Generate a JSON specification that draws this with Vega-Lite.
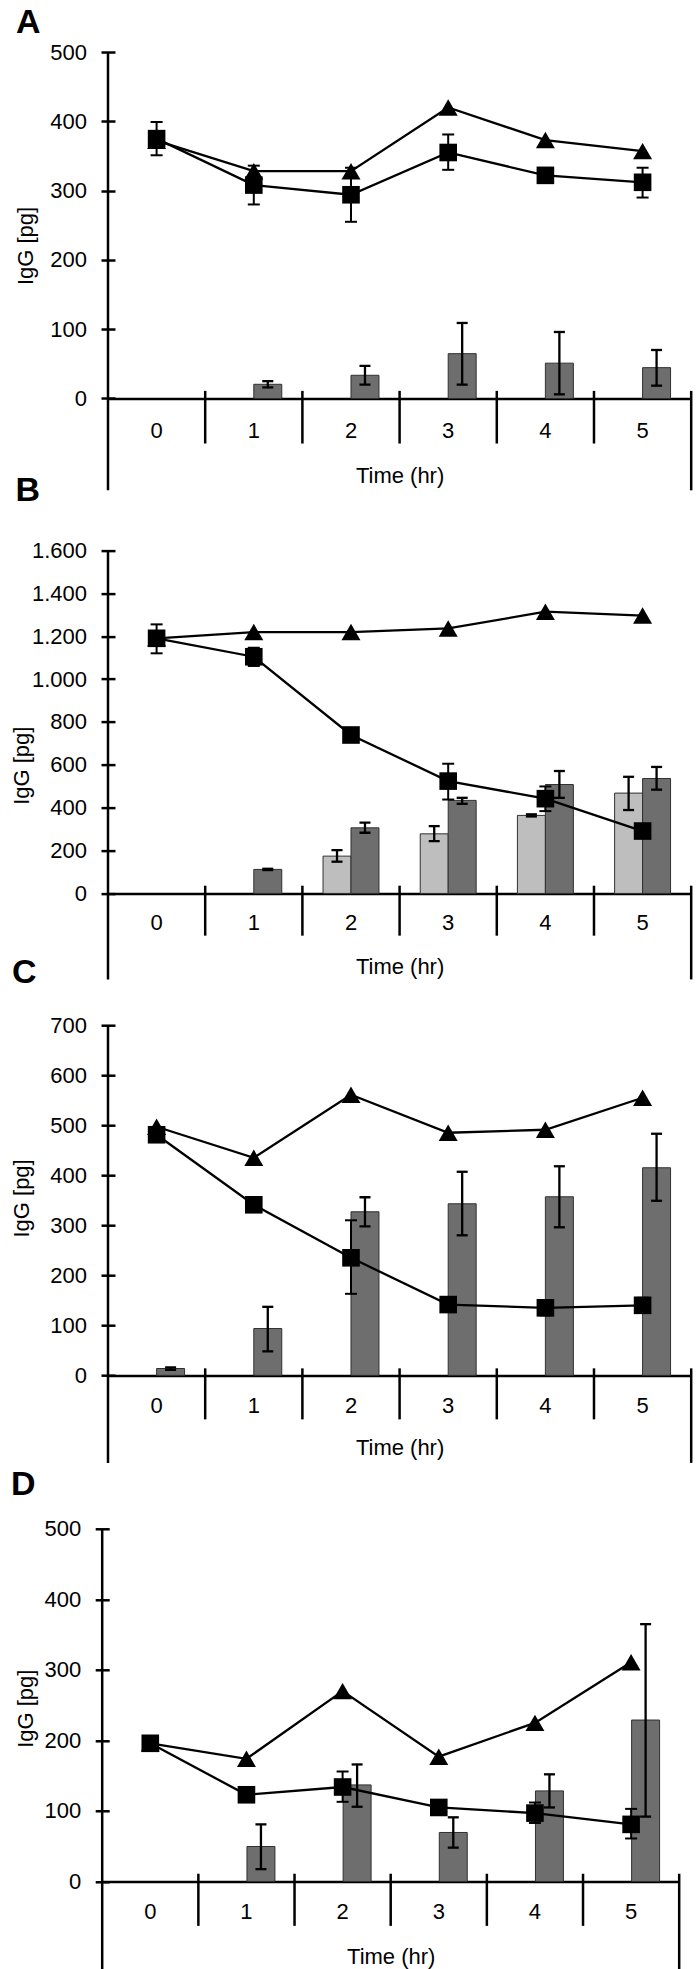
{
  "$schema": "https://vega.github.io/schema/vega-lite/v6.json",
  "padding": {"left": 10, "top": 5, "right": 0, "bottom": 0},
  "background": "white",
  "spacing": 45.6,
  "bounds": "flush",
  "config": {
    "font": "Liberation Sans",
    "view": {"stroke": null},
    "title": {"anchor": "start", "frame": "group", "fontSize": 34, "fontWeight": "bold", "color": "black", "baseline": "alphabetic"},
    "axis": {"domainColor": "black", "domainWidth": 2.5, "tickColor": "black", "tickWidth": 2.5, "tickSize": 7, "labelFontSize": 22, "labelColor": "black", "titleFontSize": 22, "titleFontWeight": "normal", "titleColor": "black", "grid": false},
    "axisY": {"domain": false, "tickSize": 14, "labelPadding": 14.5, "titleBaseline": "middle", "titleAlign": "center", "titleAngle": 270},
    "axisX": {"ticks": false, "labelAngle": 0, "titleBaseline": "middle", "zindex": 1}
  },
  "datasets": {
    "A": [
      {"t":"0","s":"sq","v":375,"lo":351,"hi":399},
      {"t":"1","s":"sq","v":308,"lo":280,"hi":336},
      {"t":"2","s":"sq","v":294,"lo":255,"hi":333},
      {"t":"3","s":"sq","v":355,"lo":330,"hi":381},
      {"t":"4","s":"sq","v":322,"lo":316,"hi":328},
      {"t":"5","s":"sq","v":312,"lo":290,"hi":333},
      {"t":"0","s":"tri","v":372},
      {"t":"1","s":"tri","v":328},
      {"t":"2","s":"tri","v":328},
      {"t":"3","s":"tri","v":420},
      {"t":"4","s":"tri","v":373},
      {"t":"5","s":"tri","v":357},
      {"t":"1","s":"dark","v":20.5,"lo":16,"hi":25},
      {"t":"2","s":"dark","v":33.5,"lo":20,"hi":47},
      {"t":"3","s":"dark","v":64.7,"lo":20,"hi":109},
      {"t":"4","s":"dark","v":51,"lo":6,"hi":96},
      {"t":"5","s":"dark","v":44.5,"lo":18.5,"hi":70}
    ],
    "B": [
      {"t":"0","s":"sq","v":1190,"lo":1120,"hi":1255},
      {"t":"1","s":"sq","v":1104,"lo":1061,"hi":1146},
      {"t":"2","s":"sq","v":739,"lo":729,"hi":749},
      {"t":"3","s":"sq","v":524,"lo":438,"hi":605},
      {"t":"4","s":"sq","v":442,"lo":384,"hi":499},
      {"t":"5","s":"sq","v":291,"lo":281,"hi":301},
      {"t":"0","s":"tri","v":1190},
      {"t":"1","s":"tri","v":1219},
      {"t":"2","s":"tri","v":1219},
      {"t":"3","s":"tri","v":1236},
      {"t":"4","s":"tri","v":1314},
      {"t":"5","s":"tri","v":1296},
      {"t":"2","s":"light","v":174,"lo":148,"hi":202},
      {"t":"3","s":"light","v":278,"lo":244,"hi":314},
      {"t":"4","s":"light","v":364,"lo":359,"hi":369},
      {"t":"5","s":"light","v":468,"lo":389,"hi":544},
      {"t":"1","s":"dark","v":112,"lo":109,"hi":115},
      {"t":"2","s":"dark","v":306,"lo":283,"hi":330},
      {"t":"3","s":"dark","v":434,"lo":418,"hi":446},
      {"t":"4","s":"dark","v":508,"lo":446,"hi":571},
      {"t":"5","s":"dark","v":536,"lo":484,"hi":590}
    ],
    "C": [
      {"t":"0","s":"sq","v":481,"lo":471,"hi":491},
      {"t":"1","s":"sq","v":341,"lo":336,"hi":346},
      {"t":"2","s":"sq","v":235,"lo":163,"hi":310},
      {"t":"3","s":"sq","v":141.5,"lo":127,"hi":156},
      {"t":"4","s":"sq","v":135,"lo":120,"hi":150},
      {"t":"5","s":"sq","v":140,"lo":125,"hi":155},
      {"t":"0","s":"tri","v":497},
      {"t":"1","s":"tri","v":435},
      {"t":"2","s":"tri","v":561},
      {"t":"3","s":"tri","v":485},
      {"t":"4","s":"tri","v":491},
      {"t":"5","s":"tri","v":555},
      {"t":"0","s":"dark","v":13.7,"lo":11,"hi":16},
      {"t":"1","s":"dark","v":93.6,"lo":48,"hi":137},
      {"t":"2","s":"dark","v":327,"lo":298,"hi":356},
      {"t":"3","s":"dark","v":343,"lo":280,"hi":407},
      {"t":"4","s":"dark","v":357,"lo":296,"hi":418},
      {"t":"5","s":"dark","v":415,"lo":349,"hi":483}
    ],
    "D": [
      {"t":"0","s":"sq","v":196,"lo":191,"hi":201},
      {"t":"1","s":"sq","v":123,"lo":118,"hi":128},
      {"t":"2","s":"sq","v":134,"lo":113,"hi":156},
      {"t":"3","s":"sq","v":105,"lo":100,"hi":110},
      {"t":"4","s":"sq","v":97,"lo":83,"hi":112},
      {"t":"5","s":"sq","v":81,"lo":61,"hi":103},
      {"t":"0","s":"tri","v":196},
      {"t":"1","s":"tri","v":174},
      {"t":"2","s":"tri","v":270},
      {"t":"3","s":"tri","v":177},
      {"t":"4","s":"tri","v":225},
      {"t":"5","s":"tri","v":311},
      {"t":"1","s":"dark","v":49.6,"lo":17.5,"hi":81},
      {"t":"2","s":"dark","v":137,"lo":106,"hi":166},
      {"t":"3","s":"dark","v":69.5,"lo":48,"hi":91},
      {"t":"4","s":"dark","v":128.5,"lo":105,"hi":152},
      {"t":"5","s":"dark","v":229,"lo":92,"hi":365}
    ]
  },
  "vconcat": [
    {
      "width": 583.2, "height": 438.3,
      "title": {"text": "A", "offset": 1.5, "dx": -92},
      "data": {"name": "A"},
      "encoding": {
        "x": {"field":"t","type":"ordinal","title":"Time (hr)","scale":{"domain":["0","1","2","3","4","5"],"paddingInner":0,"paddingOuter":0},"axis":{"offset":-91.8,"labelPadding":21.7,"titleY":76.5}},
        "y": {"field":"v","type":"quantitative","title":"IgG [pg]","scale":{"domain":[-132.5,500],"nice":false,"zero":false},"axis":{"offset":-7,"values":[0,100,200,300,400,500],"titleX":-89,"titleY":193.5}}
      },
      "layer": [
        {"transform":[{"filter":"datum.s=='light'||datum.s=='dark'"}],"mark":{"type":"bar","stroke":"#303030","strokeWidth":1},"encoding":{"xOffset":{"field":"s","type":"nominal","scale":{"domain":["light","dark"],"paddingInner":0,"paddingOuter":0.7375}},"color":{"field":"s","type":"nominal","scale":{"domain":["light","dark"],"range":["#bebebe","#6e6e6e"]},"legend":null}}},
        {"transform":[{"filter":"(datum.s=='light'||datum.s=='dark')&&isValid(datum.lo)"}],"mark":{"type":"rule","color":"black","strokeWidth":2.3},"encoding":{"xOffset":{"field":"s","type":"nominal"},"y":{"field":"lo","type":"quantitative","title":"IgG [pg]"},"y2":{"field":"hi"}}},
        {"transform":[{"filter":"(datum.s=='light'||datum.s=='dark')&&isValid(datum.lo)"}],"mark":{"type":"tick","color":"black","thickness":2.3,"size":11,"opacity":1},"encoding":{"xOffset":{"field":"s","type":"nominal"},"y":{"field":"lo","type":"quantitative","title":"IgG [pg]"}}},
        {"transform":[{"filter":"(datum.s=='light'||datum.s=='dark')&&isValid(datum.lo)"}],"mark":{"type":"tick","color":"black","thickness":2.3,"size":11,"opacity":1},"encoding":{"xOffset":{"field":"s","type":"nominal"},"y":{"field":"hi","type":"quantitative","title":"IgG [pg]"}}},
        {"transform":[{"filter":"datum.s=='sq'&&datum.t=='0'"}],"mark":{"type":"rule","color":"black","strokeWidth":2.5},"encoding":{"x":{"field":"t","type":"ordinal","bandPosition":0,"title":"Time (hr)"},"y":{"datum":500,"title":"IgG [pg]"},"y2":{"datum":-132.5}}},
        {"transform":[{"filter":"datum.s=='sq'&&datum.t!='0'"}],"mark":{"type":"rule","color":"black","strokeWidth":2.5},"encoding":{"x":{"field":"t","type":"ordinal","bandPosition":0,"title":"Time (hr)"},"y":{"datum":11,"title":"IgG [pg]"},"y2":{"datum":-65}}},
        {"transform":[{"filter":"datum.s=='sq'&&datum.t=='5'"}],"mark":{"type":"rule","color":"black","strokeWidth":2.5},"encoding":{"x":{"field":"t","type":"ordinal","bandPosition":1,"title":"Time (hr)"},"y":{"datum":11,"title":"IgG [pg]"},"y2":{"datum":-132.5}}},
        {"transform":[{"filter":"datum.s=='tri'"}],"mark":{"type":"line","color":"black","strokeWidth":2.3,"point":{"shape":"triangle-up","size":360,"filled":true,"fill":"black","opacity":1}}},
        {"transform":[{"filter":"datum.s=='sq'"}],"mark":{"type":"rule","color":"black","strokeWidth":2},"encoding":{"y":{"field":"lo","type":"quantitative","title":"IgG [pg]"},"y2":{"field":"hi"}}},
        {"transform":[{"filter":"datum.s=='sq'"}],"mark":{"type":"tick","color":"black","thickness":2,"size":12,"opacity":1},"encoding":{"y":{"field":"lo","type":"quantitative","title":"IgG [pg]"}}},
        {"transform":[{"filter":"datum.s=='sq'"}],"mark":{"type":"tick","color":"black","thickness":2,"size":12,"opacity":1},"encoding":{"y":{"field":"hi","type":"quantitative","title":"IgG [pg]"}}},
        {"transform":[{"filter":"datum.s=='sq'"}],"mark":{"type":"line","color":"black","strokeWidth":2.3,"point":{"shape":"square","size":310,"filled":true,"fill":"black","opacity":1}}}
      ]
    },
    {
      "width": 583.2, "height": 442.8,
      "title": {"text": "B", "offset": 28.9, "dx": -92.5},
      "data": {"name": "B"},
      "encoding": {
        "x": {"field":"t","type":"ordinal","title":"Time (hr)","scale":{"domain":["0","1","2","3","4","5"],"paddingInner":0,"paddingOuter":0},"axis":{"offset":-86,"labelPadding":19.1,"titleY":72.6}},
        "y": {"field":"v","type":"quantitative","title":"IgG [pg]","scale":{"domain":[-401,1600],"nice":false,"zero":false,"range":[442.8,13.8]},"axis":{"offset":-7,"values":[0,200,400,600,800,1000,1200,1400,1600],"format":",d","labelExpr":"replace(datum.label, ',', '.')","titleX":-93.5,"titleY":228.6}}
      },
      "layer": [
        {"transform":[{"filter":"datum.s=='light'||datum.s=='dark'"}],"mark":{"type":"bar","stroke":"#303030","strokeWidth":1},"encoding":{"xOffset":{"field":"s","type":"nominal","scale":{"domain":["light","dark"],"paddingInner":0,"paddingOuter":0.7375}},"color":{"field":"s","type":"nominal","scale":{"domain":["light","dark"],"range":["#bebebe","#6e6e6e"]},"legend":null}}},
        {"transform":[{"filter":"(datum.s=='light'||datum.s=='dark')&&isValid(datum.lo)"}],"mark":{"type":"rule","color":"black","strokeWidth":2.3},"encoding":{"xOffset":{"field":"s","type":"nominal"},"y":{"field":"lo","type":"quantitative","title":"IgG [pg]"},"y2":{"field":"hi"}}},
        {"transform":[{"filter":"(datum.s=='light'||datum.s=='dark')&&isValid(datum.lo)"}],"mark":{"type":"tick","color":"black","thickness":2.3,"size":11,"opacity":1},"encoding":{"xOffset":{"field":"s","type":"nominal"},"y":{"field":"lo","type":"quantitative","title":"IgG [pg]"}}},
        {"transform":[{"filter":"(datum.s=='light'||datum.s=='dark')&&isValid(datum.lo)"}],"mark":{"type":"tick","color":"black","thickness":2.3,"size":11,"opacity":1},"encoding":{"xOffset":{"field":"s","type":"nominal"},"y":{"field":"hi","type":"quantitative","title":"IgG [pg]"}}},
        {"transform":[{"filter":"datum.s=='sq'&&datum.t=='0'"}],"mark":{"type":"rule","color":"black","strokeWidth":2.5},"encoding":{"x":{"field":"t","type":"ordinal","bandPosition":0,"title":"Time (hr)"},"y":{"datum":1600,"title":"IgG [pg]"},"y2":{"datum":-401}}},
        {"transform":[{"filter":"datum.s=='sq'&&datum.t!='0'"}],"mark":{"type":"rule","color":"black","strokeWidth":2.5},"encoding":{"x":{"field":"t","type":"ordinal","bandPosition":0,"title":"Time (hr)"},"y":{"datum":36,"title":"IgG [pg]"},"y2":{"datum":-197}}},
        {"transform":[{"filter":"datum.s=='sq'&&datum.t=='5'"}],"mark":{"type":"rule","color":"black","strokeWidth":2.5},"encoding":{"x":{"field":"t","type":"ordinal","bandPosition":1,"title":"Time (hr)"},"y":{"datum":36,"title":"IgG [pg]"},"y2":{"datum":-401}}},
        {"transform":[{"filter":"datum.s=='tri'"}],"mark":{"type":"line","color":"black","strokeWidth":2.3,"point":{"shape":"triangle-up","size":360,"filled":true,"fill":"black","opacity":1}}},
        {"transform":[{"filter":"datum.s=='sq'"}],"mark":{"type":"rule","color":"black","strokeWidth":2},"encoding":{"y":{"field":"lo","type":"quantitative","title":"IgG [pg]"},"y2":{"field":"hi"}}},
        {"transform":[{"filter":"datum.s=='sq'"}],"mark":{"type":"tick","color":"black","thickness":2,"size":12,"opacity":1},"encoding":{"y":{"field":"lo","type":"quantitative","title":"IgG [pg]"}}},
        {"transform":[{"filter":"datum.s=='sq'"}],"mark":{"type":"tick","color":"black","thickness":2,"size":12,"opacity":1},"encoding":{"y":{"field":"hi","type":"quantitative","title":"IgG [pg]"}}},
        {"transform":[{"filter":"datum.s=='sq'"}],"mark":{"type":"line","color":"black","strokeWidth":2.3,"point":{"shape":"square","size":310,"filled":true,"fill":"black","opacity":1}}}
      ]
    },
    {
      "width": 583.2, "height": 437.7,
      "title": {"text": "C", "offset": 23.8, "dx": -96},
      "data": {"name": "C"},
      "encoding": {
        "x": {"field":"t","type":"ordinal","title":"Time (hr)","scale":{"domain":["0","1","2","3","4","5"],"paddingInner":0,"paddingOuter":0},"axis":{"offset":-87.5,"labelPadding":19.7,"titleY":72.5}},
        "y": {"field":"v","type":"quantitative","title":"IgG [pg]","scale":{"domain":[-175,700],"nice":false,"zero":false},"axis":{"offset":-7,"values":[0,100,200,300,400,500,600,700],"titleX":-93.5,"titleY":172.7}}
      },
      "layer": [
        {"transform":[{"filter":"datum.s=='light'||datum.s=='dark'"}],"mark":{"type":"bar","stroke":"#303030","strokeWidth":1},"encoding":{"xOffset":{"field":"s","type":"nominal","scale":{"domain":["light","dark"],"paddingInner":0,"paddingOuter":0.7375}},"color":{"field":"s","type":"nominal","scale":{"domain":["light","dark"],"range":["#bebebe","#6e6e6e"]},"legend":null}}},
        {"transform":[{"filter":"(datum.s=='light'||datum.s=='dark')&&isValid(datum.lo)"}],"mark":{"type":"rule","color":"black","strokeWidth":2.3},"encoding":{"xOffset":{"field":"s","type":"nominal"},"y":{"field":"lo","type":"quantitative","title":"IgG [pg]"},"y2":{"field":"hi"}}},
        {"transform":[{"filter":"(datum.s=='light'||datum.s=='dark')&&isValid(datum.lo)"}],"mark":{"type":"tick","color":"black","thickness":2.3,"size":11,"opacity":1},"encoding":{"xOffset":{"field":"s","type":"nominal"},"y":{"field":"lo","type":"quantitative","title":"IgG [pg]"}}},
        {"transform":[{"filter":"(datum.s=='light'||datum.s=='dark')&&isValid(datum.lo)"}],"mark":{"type":"tick","color":"black","thickness":2.3,"size":11,"opacity":1},"encoding":{"xOffset":{"field":"s","type":"nominal"},"y":{"field":"hi","type":"quantitative","title":"IgG [pg]"}}},
        {"transform":[{"filter":"datum.s=='sq'&&datum.t=='0'"}],"mark":{"type":"rule","color":"black","strokeWidth":2.5},"encoding":{"x":{"field":"t","type":"ordinal","bandPosition":0,"title":"Time (hr)"},"y":{"datum":700,"title":"IgG [pg]"},"y2":{"datum":-175}}},
        {"transform":[{"filter":"datum.s=='sq'&&datum.t!='0'"}],"mark":{"type":"rule","color":"black","strokeWidth":2.5},"encoding":{"x":{"field":"t","type":"ordinal","bandPosition":0,"title":"Time (hr)"},"y":{"datum":14,"title":"IgG [pg]"},"y2":{"datum":-88}}},
        {"transform":[{"filter":"datum.s=='sq'&&datum.t=='5'"}],"mark":{"type":"rule","color":"black","strokeWidth":2.5},"encoding":{"x":{"field":"t","type":"ordinal","bandPosition":1,"title":"Time (hr)"},"y":{"datum":14,"title":"IgG [pg]"},"y2":{"datum":-175}}},
        {"transform":[{"filter":"datum.s=='tri'"}],"mark":{"type":"line","color":"black","strokeWidth":2.3,"point":{"shape":"triangle-up","size":360,"filled":true,"fill":"black","opacity":1}}},
        {"transform":[{"filter":"datum.s=='sq'"}],"mark":{"type":"rule","color":"black","strokeWidth":2},"encoding":{"y":{"field":"lo","type":"quantitative","title":"IgG [pg]"},"y2":{"field":"hi"}}},
        {"transform":[{"filter":"datum.s=='sq'"}],"mark":{"type":"tick","color":"black","thickness":2,"size":12,"opacity":1},"encoding":{"y":{"field":"lo","type":"quantitative","title":"IgG [pg]"}}},
        {"transform":[{"filter":"datum.s=='sq'"}],"mark":{"type":"tick","color":"black","thickness":2,"size":12,"opacity":1},"encoding":{"y":{"field":"hi","type":"quantitative","title":"IgG [pg]"}}},
        {"transform":[{"filter":"datum.s=='sq'"}],"mark":{"type":"line","color":"black","strokeWidth":2.3,"point":{"shape":"square","size":310,"filled":true,"fill":"black","opacity":1}}}
      ]
    },
    {
      "width": 583.2, "height": 461.1,
      "title": {"text": "D", "offset": 6.6, "dx": -97},
      "data": {"name": "D"},
      "encoding": {
        "x": {"field":"t","type":"ordinal","title":"Time (hr)","scale":{"domain":["0","1","2","3","4","5"],"paddingInner":0,"paddingOuter":0,"range":[-5.8,571.2]},"axis":{"offset":-88.4,"labelPadding":20.5,"titleY":75}},
        "y": {"field":"v","type":"quantitative","title":"IgG [pg]","scale":{"domain":[-125.4,500],"nice":false,"zero":false,"range":[461.1,20.2]},"axis":{"offset":-1.2,"values":[0,100,200,300,400,500],"titleX":-83.2,"titleY":199.4}}
      },
      "layer": [
        {"transform":[{"filter":"datum.s=='light'||datum.s=='dark'"}],"mark":{"type":"bar","stroke":"#303030","strokeWidth":1},"encoding":{"xOffset":{"field":"s","type":"nominal","scale":{"domain":["light","dark"],"paddingInner":0,"paddingOuter":0.7375}},"color":{"field":"s","type":"nominal","scale":{"domain":["light","dark"],"range":["#bebebe","#6e6e6e"]},"legend":null}}},
        {"transform":[{"filter":"(datum.s=='light'||datum.s=='dark')&&isValid(datum.lo)"}],"mark":{"type":"rule","color":"black","strokeWidth":2.3},"encoding":{"xOffset":{"field":"s","type":"nominal"},"y":{"field":"lo","type":"quantitative","title":"IgG [pg]"},"y2":{"field":"hi"}}},
        {"transform":[{"filter":"(datum.s=='light'||datum.s=='dark')&&isValid(datum.lo)"}],"mark":{"type":"tick","color":"black","thickness":2.3,"size":11,"opacity":1},"encoding":{"xOffset":{"field":"s","type":"nominal"},"y":{"field":"lo","type":"quantitative","title":"IgG [pg]"}}},
        {"transform":[{"filter":"(datum.s=='light'||datum.s=='dark')&&isValid(datum.lo)"}],"mark":{"type":"tick","color":"black","thickness":2.3,"size":11,"opacity":1},"encoding":{"xOffset":{"field":"s","type":"nominal"},"y":{"field":"hi","type":"quantitative","title":"IgG [pg]"}}},
        {"transform":[{"filter":"datum.s=='sq'&&datum.t=='0'"}],"mark":{"type":"rule","color":"black","strokeWidth":2.5},"encoding":{"x":{"field":"t","type":"ordinal","bandPosition":0,"title":"Time (hr)"},"y":{"datum":500,"title":"IgG [pg]"},"y2":{"datum":-125.4}}},
        {"transform":[{"filter":"datum.s=='sq'&&datum.t!='0'"}],"mark":{"type":"rule","color":"black","strokeWidth":2.5},"encoding":{"x":{"field":"t","type":"ordinal","bandPosition":0,"title":"Time (hr)"},"y":{"datum":11,"title":"IgG [pg]"},"y2":{"datum":-63}}},
        {"transform":[{"filter":"datum.s=='sq'&&datum.t=='5'"}],"mark":{"type":"rule","color":"black","strokeWidth":2.5},"encoding":{"x":{"field":"t","type":"ordinal","bandPosition":1,"title":"Time (hr)"},"y":{"datum":11,"title":"IgG [pg]"},"y2":{"datum":-125.4}}},
        {"transform":[{"filter":"datum.s=='tri'"}],"mark":{"type":"line","color":"black","strokeWidth":2.3,"point":{"shape":"triangle-up","size":360,"filled":true,"fill":"black","opacity":1}}},
        {"transform":[{"filter":"datum.s=='sq'"}],"mark":{"type":"rule","color":"black","strokeWidth":2},"encoding":{"y":{"field":"lo","type":"quantitative","title":"IgG [pg]"},"y2":{"field":"hi"}}},
        {"transform":[{"filter":"datum.s=='sq'"}],"mark":{"type":"tick","color":"black","thickness":2,"size":12,"opacity":1},"encoding":{"y":{"field":"lo","type":"quantitative","title":"IgG [pg]"}}},
        {"transform":[{"filter":"datum.s=='sq'"}],"mark":{"type":"tick","color":"black","thickness":2,"size":12,"opacity":1},"encoding":{"y":{"field":"hi","type":"quantitative","title":"IgG [pg]"}}},
        {"transform":[{"filter":"datum.s=='sq'"}],"mark":{"type":"line","color":"black","strokeWidth":2.3,"point":{"shape":"square","size":310,"filled":true,"fill":"black","opacity":1}}}
      ]
    }
  ]
}
